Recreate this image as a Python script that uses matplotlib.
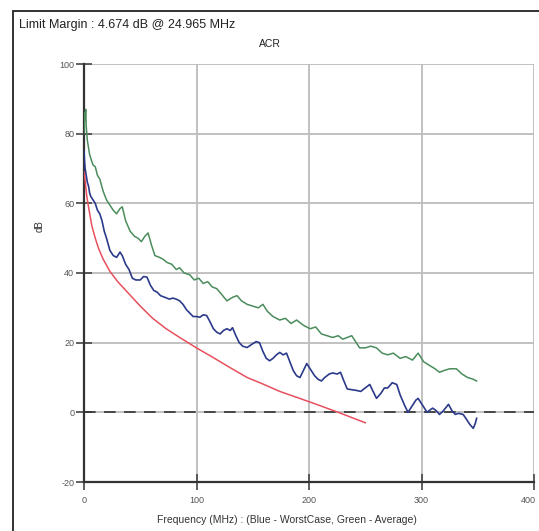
import numpy as np
import matplotlib
matplotlib.use("Agg")
import matplotlib.pyplot as plt
from matplotlib.patches import Rectangle
from matplotlib.transforms import ScaledTranslation

plt.rcParams['font.family'] = ['Liberation Sans', 'DejaVu Sans']
plt.rcParams['axes.unicode_minus'] = False

# Average (green)
green_x = [0, 0.5, 1, 1.5, 2, 3, 4, 5, 6, 8, 10, 12, 14, 17, 20, 23, 26, 29, 32, 34,
           37, 41, 45, 48, 51, 54, 57, 60, 63, 67, 70, 74, 78, 82, 85, 89, 94, 98, 102, 106,
           110, 114, 118, 122, 127, 132, 136, 140, 145, 150, 155, 159, 163, 168, 174, 179, 184, 189, 195, 201,
           206, 211, 216, 221, 226, 230, 234, 238, 242, 245, 250, 255, 260, 265, 270, 275, 281, 286, 292, 297,
           302, 307, 312, 316, 320, 325, 331, 336, 341, 346, 349]
green_y = [80, 86, 84, 87, 82, 78, 76, 74, 73, 71, 70.5, 68, 67, 63.5, 61, 59.5, 58, 57, 58.5, 59,
           55, 52, 50.5, 50, 49, 50.5, 51.5, 48, 45, 44.5, 44, 43, 42.5, 41, 41.5, 40, 39.5, 38, 38.5, 37,
           37.5, 36, 35.5, 34, 32, 33, 33.5, 32, 31, 30.5, 30, 31, 29, 27.5, 26.5, 27, 25.5, 26.5, 25, 24,
           24.5, 22.5, 22, 21.5, 22, 21, 21.5, 22, 20, 18.5, 18.5, 19, 18.5, 17, 16.5, 17, 15.5, 16, 15, 17,
           14.5, 13.5, 12.5, 11.5, 12, 12.5, 12.5, 11, 10, 9.5, 9]

# Worst case (blue)
blue_x = [0, 0.5, 1, 1.5, 2, 3, 4, 5, 6, 8, 10, 12, 14, 16, 18, 20, 23, 26, 29, 32,
          34, 37, 40, 43, 46, 50, 53, 56, 59, 62, 65, 68, 72, 76, 79, 82, 85, 88, 91, 94,
          97, 100, 103, 106, 109, 112, 115, 118, 121, 124, 127, 130, 132, 135, 138, 141, 145, 149, 153, 156,
          159, 162, 165, 168, 171, 174, 177, 180, 183, 186, 189, 192, 195, 198, 201, 205, 208, 211, 214, 218,
          221, 225, 228, 231, 234, 238, 242, 246, 250, 254, 257, 260, 264, 267, 270, 274, 278, 281, 285, 288,
          292, 295, 297, 300, 303, 305, 308, 310, 313, 316, 319, 322, 324, 327, 330, 333, 337, 340, 343, 346,
          348, 349]
blue_y = [75, 72, 70, 69, 68, 66, 65, 63, 62, 61, 60, 58, 57, 55, 52, 50, 46.5, 45, 44.5, 46,
          45, 42.5, 41, 38.5, 38, 38, 39, 38.8, 36.5, 35, 34.5, 33.5, 33, 32.5, 32.8, 32.5, 32, 31, 29.5, 28.5,
          27.5, 27.5, 27.3, 28, 27.8, 26, 24, 23, 22.5, 23.5, 24, 23.5, 24.3, 22, 20, 19, 18.6, 19.5, 20.3, 20,
          17.5, 15.5, 14.8, 15.5, 16.5, 17.2, 16.5, 17, 14.5, 12, 10.5, 10, 12, 14, 12.5, 10.5, 9.5, 9, 10, 11,
          11.3, 11, 11.5, 9, 6.7, 6.5, 6.3, 6, 7, 8, 6, 4, 5.5, 7, 7, 8.5, 8, 5, 2, 0,
          2, 3.5, 4, 2.5, 1, 0, 0.8, 1.2, 0.5, -0.6, 0.3, 1.5, 2.3, 0.5, -0.6, -0.3, -0.6, -2, -3.5, -4.6,
          -3, -1.7]

# Limit (red)
limit_x = [0.3, 1, 2.5, 4, 7, 10, 13, 17, 23, 30, 40, 50, 61, 73, 85, 100, 115, 130, 145, 160,
           174, 190, 204, 215, 226, 238, 250]
limit_y = [69, 66.5, 62, 59, 53.5, 50, 47, 44, 40.5, 37.5, 34, 30.5, 27, 24, 21.5, 18.5, 15.7, 12.8, 10, 8,
           6, 4.2, 2.6, 1.3, 0, -1.5, -3]

x_ticks = [0, 100, 200, 300, 400]
y_ticks = [-20, 0, 20, 40, 60, 80, 100]

W, H = 539, 531
fig = plt.figure(figsize=(W / 100, H / 100), dpi=100)
ax = fig.add_axes([84 / W, 1 - 482 / H, (534 - 84) / W, (482 - 64) / H])

ax.set_xlim(0, 400)
ax.set_ylim(-20, 100)
ax.set_xticks(x_ticks)
ax.set_yticks(y_ticks)
ax.grid(True, color='#bcbcbc', linewidth=1.3)
ax.set_axisbelow(True)

ax.axhline(0, color='#333333', linewidth=1.2, dashes=(7, 5), zorder=2)

ax.plot(limit_x, limit_y, color='#e8505e', linewidth=1.1, zorder=3)
ax.plot(green_x, green_y, color='#4b8c5c', linewidth=1.1, zorder=4)
ax.plot(blue_x, blue_y, color='#2b3a8a', linewidth=1.2, zorder=5)

for s in ['top', 'right']:
    ax.spines[s].set_visible(False)
for s in ['left', 'bottom']:
    ax.spines[s].set_color('#333333')
    ax.spines[s].set_linewidth(1.6)

ax.tick_params(direction='inout', length=12, width=1.2, color='#444444',
               labelsize=6.5, labelcolor='#555555')
ax.tick_params(axis='y', pad=1)
ax.tick_params(axis='x', pad=4)

# the last x label sits at the right edge of the image; nudge it in so it is not cut
last = ax.get_xticklabels()[-1]
last.set_transform(last.get_transform() + ScaledTranslation(-6 / 100, 0, fig.dpi_scale_trans))

fig.text(19 / W, 1 - 25 / H, 'Limit Margin : 4.674 dB @ 24.965 MHz',
         fontsize=9, va='center', ha='left', color='#222222')
fig.text(270 / W, 1 - 44 / H, 'ACR', fontsize=7.5, va='center', ha='center', color='#222222')
fig.text(40 / W, 1 - 226 / H, 'dB', fontsize=7, va='center', ha='center', rotation=90, color='#333333')
fig.text(287 / W, 1 - 520 / H, 'Frequency (MHz) : (Blue - WorstCase, Green - Average)',
         fontsize=7.5, va='center', ha='center', color='#333333')

# outer frame
fig.patches.append(Rectangle((13 / W, -0.05), 1.1, 1 - 11 / H + 0.05, transform=fig.transFigure,
                             fill=False, edgecolor='#222222', linewidth=1.3))

fig.savefig('out.png', dpi=100)
